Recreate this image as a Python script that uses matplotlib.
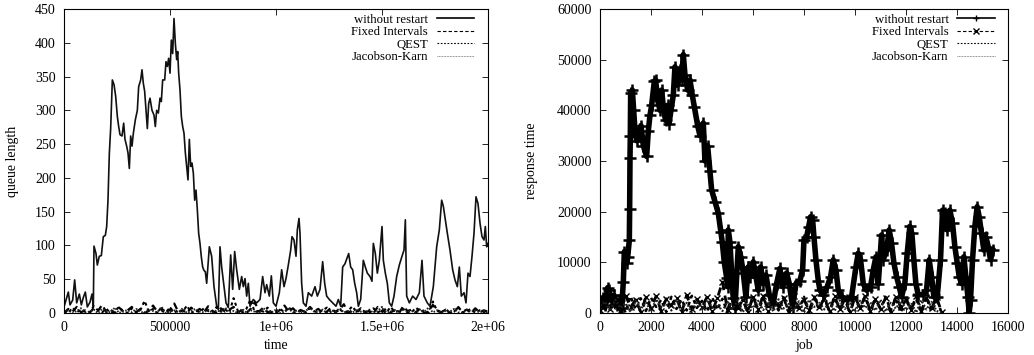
import numpy as np
import matplotlib
matplotlib.use("Agg")
import matplotlib.pyplot as plt
from matplotlib.ticker import FixedLocator, FixedFormatter

# ---------------- data: left panel (queue length vs time) ----------------
wr_time = [0, 20400, 28300, 40900, 50300, 59800, 72300, 81800, 91200, 100600,
           110000, 122600, 132100, 138400, 141500, 150900, 157200, 166600, 176100, 185500,
           195000, 201300, 207500, 213800, 220100, 228000, 235900, 243700, 251600, 257900,
           264200, 273600, 281500, 287700, 295600, 301900, 308200, 314500, 320800, 327100,
           336500, 345900, 352200, 361700, 367900, 374200, 380500, 386800, 393100, 399400,
           405700, 415100, 424500, 430800, 437100, 445000, 452800, 459100, 465400, 474900,
           481100, 487400, 493700, 500000, 506300, 512600, 518900, 525200, 531500, 536200,
           540900, 547200, 553500, 559800, 566100, 572400, 578600, 584900, 591200, 597500,
           603800, 610100, 616400, 622600, 628900, 635200, 641500, 647800, 654100, 660400,
           666700, 673000,
           685500, 696500, 707600, 720100, 728000, 735900, 743700, 754700, 764200, 775100,
           786200, 795600, 805000, 814500, 827000, 838100, 845900, 853800, 861700, 869500,
           877400, 893100, 908800, 924600, 937100, 948100, 956000, 968600, 978000, 987400,
           1000000, 1015700, 1026700, 1037700, 1047200, 1058100, 1069200, 1075500, 1084900, 1094300,
           1100600, 1108500, 1113200, 1121000, 1128900, 1141500, 1152500, 1168200, 1184000, 1195000,
           1207600, 1220100, 1229600, 1239000, 1251600, 1267300, 1283000, 1294000, 1305000, 1314500,
           1325500,
           1342800, 1352200, 1361700, 1371100, 1380500, 1388400, 1399400, 1411900, 1421400, 1430800,
           1443400, 1452800, 1459100, 1468500, 1478000, 1487400, 1500000, 1506300, 1515700, 1525100,
           1534600, 1545600, 1556600, 1569200, 1581700, 1594300, 1603800, 1610100, 1616400, 1629000,
           1644600, 1660400, 1676100, 1688700, 1698100, 1713800, 1726400, 1742100, 1757900, 1770400,
           1781400, 1789300, 1798700, 1808200, 1820800, 1833300, 1844300, 1855300, 1864800, 1874200,
           1886800, 1896200, 1905700, 1915100, 1924600, 1934000, 1943400, 1952800, 1962300, 1971700,
           1981100, 1987400, 1993700, 2000000]
wr_queue = [9, 31, 12, 19, 49, 15, 28, 12, 23, 31,
            9, 16, 28, 10, 99, 88, 71, 84, 85, 113,
            115, 128, 167, 236, 273, 345, 338, 321, 291, 276,
            264, 262, 281, 257, 247, 237, 214, 262, 247, 266,
            286, 300, 335, 345, 360, 340, 328, 300, 273, 310,
            318, 300, 293, 276, 300, 296, 318, 313, 345, 345,
            372, 365, 377, 355, 404, 384, 436, 399, 375, 387,
            355, 330, 291, 276, 266, 237, 217, 197, 257, 217,
            222, 207, 167, 182, 153, 118, 103, 83, 68, 63,
            61, 44,
            98, 84, 39, 10, 5, 98, 68, 39, 15, 8,
            86, 35, 91, 64, 35, 54, 39, 51, 25, 44,
            10, 20, 15, 20, 54, 30, 42, 25, 55, 15,
            10, 30, 64, 39, 51, 71, 93, 113, 108, 84,
            123, 140, 118, 44, 15, 10, 30, 25, 39, 25,
            35, 76, 44, 25, 20, 15, 10, 20, 10, 68,
            73,
            88, 68, 64, 44, 30, 10, 20, 78, 68, 59,
            54, 47, 103, 88, 59, 78, 128, 78, 59, 44,
            15, 10, 25, 54, 71, 84, 93, 138, 25, 15,
            25, 20, 30, 78, 25, 15, 10, 39, 98, 123,
            167, 158, 138, 118, 93, 64, 49, 39, 68, 25,
            30, 15, 59, 54, 84, 118, 172, 162, 133, 113,
            108, 128, 98, 103]

fixed_queue = [0, 6, 2, 9, 1, 4, 0, 7, 3, 12, 1, 5, 0, 8, 2, 4, 9, 1, 6, 0,
               3, 11, 2, 7, 0, 5, 14, 1, 4, 0, 8, 2, 6, 1, 10, 3, 0, 7, 2, 5,
               9, 1, 4, 0, 6, 16, 2, 8, 1, 3, 0, 5, 11, 2, 7, 0, 4, 1, 9, 3,
               6, 0, 2, 8, 1, 5, 13, 0, 4, 2, 7, 1, 3, 0, 9, 2, 6, 1, 4, 0,
               10, 3, 5, 1, 7, 0, 2, 12, 4, 1, 6, 0, 3, 8, 2, 5, 0, 7, 1, 4, 2]
qest_queue = [3, 0, 8, 1, 5, 2, 0, 10, 4, 1, 6, 0, 3, 9, 2, 0, 7, 1, 4, 18,
              2, 6, 0, 3, 1, 8, 0, 5, 2, 11, 0, 4, 1, 7, 3, 0, 9, 2, 5, 1,
              22, 3, 0, 6, 20, 1, 4, 2, 8, 0, 3, 6, 1, 9, 0, 2, 5, 1, 7, 3,
              0, 4, 8, 1, 2, 6, 0, 3, 10, 1, 5, 2, 0, 7, 1, 4, 0, 9, 2, 3,
              6, 0, 1, 8, 2, 4, 0, 17, 3, 1, 5, 0, 2, 9, 1, 3, 6, 0, 4, 1, 5]
jk_queue = [1, 4, 0, 3, 7, 1, 2, 5, 0, 6, 2, 1, 8, 0, 3, 4, 1, 6, 2, 0,
            5, 3, 1, 9, 0, 2, 4, 1, 7, 0, 3, 6, 2, 1, 5, 0, 4, 2, 8, 1,
            3, 0, 6, 1, 4, 2, 0, 7, 3, 1, 5, 0, 2, 6, 1, 4, 0, 3, 8, 2,
            1, 5, 0, 4, 2, 7, 1, 3, 0, 6, 2, 1, 5, 0, 3, 9, 1, 2, 4, 0,
            6, 1, 3, 0, 5, 2, 8, 1, 4, 0, 3, 2, 6, 1, 0, 5, 2, 4, 1, 3, 0]
restart_time_end = 2000000

# ---------------- data: right panel (response time vs job) ----------------
wr_job = [0, 100, 200, 300, 350, 450, 550, 650, 750, 850,
          915, 954, 1045, 1085, 1150, 1163, 1176, 1189, 1202, 1268,
          1320, 1372, 1437, 1529, 1607, 1699, 1829, 1895, 1960, 2025,
          2130, 2182, 2261, 2352, 2417, 2496, 2574, 2653, 2705, 2783,
          2875, 2940, 3045, 3136, 3201, 3267, 3332, 3437, 3528, 3619,
          3698, 3829, 3920, 4051, 4116, 4221, 4312, 4377, 4508, 4639,
          4743, 4795, 4874, 4965, 5005, 5031, 5096, 5161, 5227, 5292,
          5423, 5527, 5618, 5723, 5814, 5880, 6011, 6115, 6207, 6298,
          6403, 6507, 6638, 6795, 6926, 7056, 7161, 7318, 7423, 7553,
          7684, 7841, 7946, 7998, 8102, 8181, 8259, 8338, 8390, 8468,
          8560, 8625, 8756, 8912, 9043, 9148, 9252, 9344, 9474, 9670,
          9866, 10036, 10127, 10219, 10323, 10454, 10611, 10716, 10820, 10912,
          11043, 11108, 11237, 11341, 11433, 11524, 11629, 11733, 11825, 11955,
          12047, 12151, 12230, 12308, 12387, 12478, 12648, 12805, 12910, 13002,
          13093, 13224, 13354, 13433, 13524, 13616, 13720, 13825, 13916, 14008,
          14086, 14178, 14269, 14347, 14426, 14478, 14530, 14609, 14700, 14792,
          14870, 14962, 15053, 15132, 15223, 15315, 15393]
wr_resp = [1000, 3000, 1500, 5000, 4500, 2500, 3500, 1500, 2500, 1000,
           6200, 12100, 9800, 11000, 14400, 20500, 30500, 35000, 43400, 44000,
           40100, 36100, 34000, 35000, 37000, 33000, 30900, 36000, 39000, 41000,
           45700, 46000, 42000, 40000, 44000, 40000, 38000, 41000, 37400, 40000,
           43000, 48600, 45000, 48000, 46000, 51000, 47000, 44000, 46000, 43000,
           40700, 37000, 35000, 37500, 30000, 33000, 28000, 24300, 22000, 19700,
           16000, 14000, 10000, 7000, 5200, 16400, 14000, 8000, 3000, 1000,
           13100, 11000, 7900, 3200, 9100, 7200, 10100, 7200, 4500, 9100,
           5800, 7500, 3600, 1900, 5800, 8800, 5200, 7900, 5800, 1200,
           5800, 6400, 8500, 14400, 15000, 17000, 19000, 18400, 15000, 10500,
           6400, 4500, 3600, 5200, 7200, 10500, 8500, 4500, 3200, 2600,
           3200, 9100, 11800, 10500, 5800, 4500, 5200, 8500, 11100, 5800,
           15400, 10500, 12400, 16400, 13800, 9900, 7200, 5200, 3200, 5800,
           11800, 17100, 15700, 10500, 5800, 3600, 3600, 4500, 10500, 7200,
           3200, 3200, 10500, 20300, 19700, 16400, 20300, 17700, 13100, 9900,
           7200, 5800, 11100, 7200, 3200, 0, 2600, 10500, 17100, 21000,
           19000, 15700, 12400, 15000, 13100, 10500, 12400]

fixed_resp = [500, 3200, 800, 2900, 300, 3400, 1200, 2600, 200, 3100,
              900, 3300, 400, 2800, 1500, 3000, 100, 3500, 700, 2700,
              1100, 3200, 300, 2900, 6100, 600, 3400, 1000, 2500, 200,
              3100, 800, 3300, 400, 2800, 1300, 3000, 200, 3400, 900,
              2600, 500, 3200, 1100, 2900, 300, 3300, 700, 2700, 100,
              3100, 1000, 3400, 400, 2800, 800, 3000, 200, 3200, 1200,
              2600, 600, 3300, 300, 2900, 900, 3100, 100]
qest_resp = [2800, 300, 3100, 900, 2500, 100, 3300, 700, 2900, 400,
             3000, 1200, 2600, 200, 3200, 800, 2700, 500, 3400, 1000,
             2400, 300, 3100, 600, 2800, 100, 3000, 900, 2600, 400,
             3300, 200, 2900, 1100, 2500, 500, 3100, 300, 2700, 800,
             3200, 100, 2800, 600, 3000, 400, 2600, 1000, 3300, 200,
             2900, 700, 3100, 300, 2500, 900, 3200, 500, 2800, 100,
             3000, 800, 2700, 400, 3100, 200, 2900, 0]
jk_resp = [1500, 2200, 400, 2600, 1000, 1900, 200, 2400, 800, 2100,
           300, 2700, 1200, 1800, 500, 2500, 900, 2000, 100, 2300,
           700, 2600, 1100, 1700, 400, 2200, 800, 2500, 200, 1900,
           1000, 2400, 600, 2100, 300, 2700, 900, 1800, 500, 2300,
           100, 2600, 1200, 2000, 700, 2200, 400, 2500, 800, 1900,
           200, 2400, 1000, 2100, 500, 2600, 300, 2000, 900, 2300,
           600, 1800, 100, 2500, 700, 2200, 400, 0]
restart_job_end = 13400

labels = ["without restart", "Fixed Intervals", "QEST", "Jacobson-Karn"]

left_xticks = [0, 500000, 1000000, 1500000, 2000000]
left_xticklabels = ["0", "500000", "1e+06", "1.5e+06", "2e+06"]
left_yticks = [0, 50, 100, 150, 200, 250, 300, 350, 400, 450]
right_xticks = [0, 2000, 4000, 6000, 8000, 10000, 12000, 14000, 16000]
right_yticks = [0, 10000, 20000, 30000, 40000, 50000, 60000]

# ---------------- styling ----------------
FS = 10
LFS = 9.2
plt.rcParams['font.family'] = ['Liberation Serif', 'DejaVu Serif']
plt.rcParams['font.size'] = FS

W, H = 1034, 355
fig = plt.figure(figsize=(W / 100, H / 100), dpi=100)
ax1 = fig.add_axes([64 / W, 1 - 313 / H, 424 / W, 304 / H])
ax2 = fig.add_axes([600 / W, 1 - 313 / H, 408 / W, 304 / H])

dash_fixed = (0, (3, 2))
dash_qest = (0, (1.5, 1.5))
dash_jk = (0, (0.8, 0.8))

# left panel
t_fixed = np.linspace(0, restart_time_end, len(fixed_queue))
t_qest = np.linspace(0, restart_time_end, len(qest_queue))
t_jk = np.linspace(0, restart_time_end, len(jk_queue))
ax1.plot(wr_time, wr_queue, color='#111111', lw=1.2, label=labels[0])
ax1.plot(t_fixed, fixed_queue, color='black', lw=1.6, ls=dash_fixed, label=labels[1])
ax1.plot(t_qest, qest_queue, color='black', lw=1.5, ls=dash_qest, label=labels[2])
ax1.plot(t_jk, jk_queue, color='#222222', lw=1.4, ls=dash_jk, label=labels[3])
ax1.set_xlim(0, 2000000)
ax1.set_ylim(0, 450)
ax1.xaxis.set_major_locator(FixedLocator(left_xticks))
ax1.xaxis.set_major_formatter(FixedFormatter(left_xticklabels))
ax1.yaxis.set_major_locator(FixedLocator(left_yticks))
ax1.set_xlabel("time")
ax1.set_ylabel("queue length")
ax1.xaxis.set_label_coords(0.5, -0.085)
ax1.yaxis.set_label_coords(-0.105, 0.5)

# right panel
j_fixed = np.linspace(0, restart_job_end, len(fixed_resp))
j_qest = np.linspace(0, restart_job_end, len(qest_resp))
j_jk = np.linspace(0, restart_job_end, len(jk_resp))
ax2.plot(wr_job, wr_resp, color='black', lw=4.0, marker='+', ms=8, mew=1.8,
         label=labels[0])
ax2.plot(j_fixed, fixed_resp, color='black', lw=2.0, ls=dash_fixed, marker='x',
         ms=5, mew=1.0, label=labels[1])
ax2.plot(j_qest, qest_resp, color='black', lw=1.8, ls=dash_qest, label=labels[2])
ax2.plot(j_jk, jk_resp, color='#222222', lw=1.6, ls=dash_jk, label=labels[3])
ax2.set_xlim(0, 16000)
ax2.set_ylim(0, 60000)
ax2.xaxis.set_major_locator(FixedLocator(right_xticks))
ax2.yaxis.set_major_locator(FixedLocator(right_yticks))
ax2.set_xlabel("job")
ax2.set_ylabel("response time")
ax2.xaxis.set_label_coords(0.5, -0.085)
ax2.yaxis.set_label_coords(-0.152, 0.5)

legend_lw = [1.2, 0.8, 0.8, 0.7]
legend_colors = ['black', 'black', 'black', '#777777']
for ax in (ax1, ax2):
    ax.tick_params(direction='in', top=True, right=True, length=4, width=0.6,
                   pad=6, labelsize=FS)
    for sp in ax.spines.values():
        sp.set_linewidth(0.8)
    ax.minorticks_off()
    leg = ax.legend(loc='upper right', bbox_to_anchor=(0.967, 0.985), frameon=False,
                    markerfirst=False, handlelength=2.9, handletextpad=0.7,
                    labelspacing=0.05, borderpad=0.0, borderaxespad=0.0,
                    numpoints=1, fontsize=LFS)
    for ln, lw, c in zip(leg.get_lines(), legend_lw, legend_colors):
        ln.set_linewidth(lw)
        ln.set_color(c)
        ln.set_markersize(5)
        ln.set_markeredgewidth(1.0)

fig.savefig("out.png", dpi=100)
